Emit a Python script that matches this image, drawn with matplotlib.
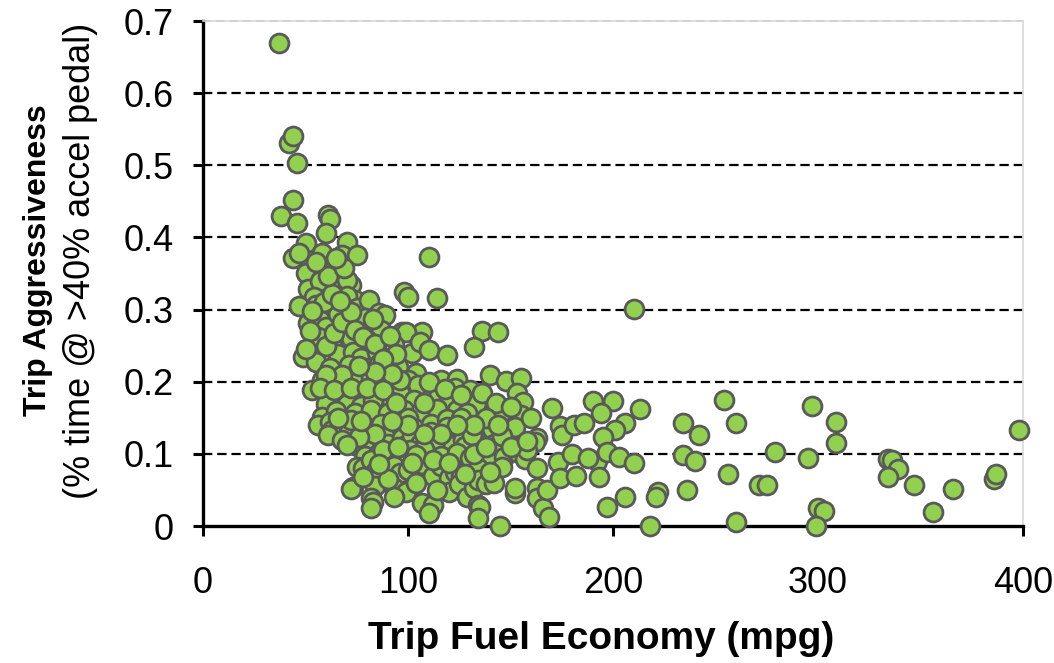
import matplotlib.pyplot as plt
import numpy as np

plt.rcParams['font.family'] = ['Liberation Sans', 'DejaVu Sans']

# trip fuel economy (mpg) and share of time above 40% accel pedal
mpg = [
    37, 42, 44, 46, 44, 38, 46, 61, 62, 60, 70, 50, 44, 47, 58, 68, 75,
    50, 58, 64, 66, 51, 72, 70, 57, 74, 54, 47, 55, 62, 65, 70, 75, 81,
    86, 89, 51, 57, 60, 66, 71, 76, 79, 82, 87, 98, 100, 114, 110, 97,
    107, 99, 136, 144, 132, 54, 63, 72, 80, 93, 49, 58, 66, 73, 77, 85,
    102, 106, 110, 119, 55, 62, 71, 80, 86, 95, 104, 58, 66, 75, 82, 90,
    100, 105, 116, 124, 140, 148, 155, 53, 61, 69, 78, 86, 96, 103, 112,
    115, 120, 123, 130, 153, 156, 60, 70, 77, 83, 92, 130, 133, 58, 65,
    74, 82, 90, 98, 106, 114, 124, 129, 141, 145, 155, 56, 62, 63, 71,
    72, 80, 87, 95, 103, 111, 111, 119, 119, 126, 127, 135, 141, 152,
    61, 68, 75, 81, 82, 89, 90, 97, 98, 102, 106, 114, 122, 127, 128,
    131, 142, 163, 162, 79, 86, 87, 96, 101, 105, 108, 116, 124, 130,
    140, 147, 153, 157, 158, 75, 78, 82, 84, 93, 96, 100, 107, 112, 116,
    120, 123, 126, 134, 146, 163, 73, 72, 84, 93, 99, 93, 82, 83, 82,
    107, 112, 110, 120, 125, 129, 132, 134, 138, 142, 152, 152, 163,
    134, 135, 134, 145, 163, 166, 169, 168,
    56, 60, 64, 68, 72, 59, 63, 67, 53, 61, 69, 65, 55, 52, 50, 74, 78,
    83, 84, 91, 94, 88, 96, 92, 84, 76, 68, 60, 57, 64, 72, 80, 88, 94,
    100, 108, 110, 118, 126, 136, 143, 138, 132, 124, 116, 108, 100, 92,
    84, 76, 70, 66, 77, 88, 95, 104, 112, 120, 132, 138, 146, 150, 158,
    144, 150, 160, 90, 104, 114, 128, 140, 102, 86, 78,
    170, 174, 175, 181, 186, 190, 200, 194, 213, 206, 201, 195, 173,
    180, 174, 182, 192, 188, 197, 203, 210, 193, 197, 206, 210, 234,
    242, 234, 240, 236, 222, 221, 218, 254, 260, 256, 260, 271, 297,
    309, 309, 279, 295, 275, 300, 303, 299, 334, 336, 339, 334, 347,
    356, 366, 386, 387, 398,
]
aggr = [
    .670, .531, .541, .503, .452, .430, .420, .431, .426, .406, .394,
    .392, .372, .379, .379, .376, .376, .351, .344, .356, .331, .329,
    .334, .341, .340, .313, .318, .305, .306, .306, .300, .319, .302,
    .313, .295, .293, .282, .286, .276, .294, .269, .283, .288, .273,
    .272, .325, .318, .316, .373, .269, .269, .269, .270, .269, .248,
    .252, .251, .261, .258, .251, .234, .236, .239, .241, .233, .241,
    .240, .255, .244, .237, .227, .219, .223, .219, .225, .221, .212,
    .202, .198, .201, .205, .198, .202, .196, .202, .204, .209, .201,
    .205, .189, .180, .182, .179, .179, .184, .175, .187, .183, .176,
    .191, .188, .184, .172, .169, .169, .166, .173, .172, .161, .169,
    .151, .160, .157, .161, .157, .161, .157, .162, .161, .157, .154,
    .155, .154, .140, .144, .133, .130, .147, .136, .141, .132, .136,
    .142, .130, .148, .137, .150, .130, .136, .135, .137, .126, .119,
    .111, .119, .111, .123, .114, .122, .111, .125, .114, .111, .111,
    .119, .111, .126, .114, .122, .117, .097, .101, .097, .094, .105,
    .096, .107, .097, .101, .094, .092, .096, .103, .093, .105, .082,
    .080, .092, .075, .083, .073, .078, .086, .069, .083, .067, .075,
    .069, .080, .082, .080, .054, .051, .055, .053, .047, .040, .039,
    .033, .025, .032, .029, .018, .047, .058, .040, .053, .064, .058,
    .060, .046, .053, .053, .029, .026, .011, .000, .039, .025, .013,
    .050,
    .262, .250, .268, .283, .296, .311, .322, .312, .298, .346, .357,
    .372, .366, .270, .245, .272, .262, .287, .253, .264, .238, .232,
    .203, .211, .214, .222, .210, .210, .192, .188, .192, .192, .188,
    .170, .150, .170, .199, .190, .182, .185, .170, .150, .140, .140,
    .128, .128, .140, .146, .128, .124, .112, .150, .146, .105, .110,
    .098, .092, .088, .100, .110, .125, .110, .118, .140, .165, .150,
    .065, .060, .050, .072, .075, .088, .086, .068,
    .164, .139, .126, .140, .143, .173, .173, .157, .162, .143, .133,
    .123, .089, .100, .067, .069, .090, .094, .103, .096, .087, .068,
    .026, .040, .301, .143, .126, .098, .090, .050, .047, .040, .000,
    .175, .143, .072, .005, .057, .166, .144, .115, .103, .094, .057,
    .025, .021, .000, .093, .092, .079, .068, .057, .019, .051, .065,
    .072, .133,
]

x_ticks = [0, 100, 200, 300, 400]
y_ticks = [0, 0.1, 0.2, 0.3, 0.4, 0.5, 0.6, 0.7]
y_tick_labels = ['0', '0.1', '0.2', '0.3', '0.4', '0.5', '0.6', '0.7']

fig = plt.figure(figsize=(10.54, 6.63), dpi=100)
ax = fig.add_axes([0.1926, 0.2066, 0.778, 0.7617])

# dashed horizontal gridlines
for yv in y_ticks[1:-1]:
    ax.axhline(yv, color='black', lw=1.6, ls=(0, (4.2, 2.2)), zorder=1)
ax.axhline(0.7, color='#a6a6a6', lw=1.2, ls=(0, (5, 3)), zorder=1, clip_on=False)

ax.scatter(mpg, aggr, s=185, facecolor='#92d050', edgecolor='#595959',
           linewidth=2.0, zorder=3, clip_on=False)

ax.set_xlim(0, 400)
ax.set_ylim(0, 0.7)
ax.set_xticks(x_ticks)
ax.set_yticks(y_ticks)
ax.set_yticklabels(y_tick_labels)
ax.tick_params(axis='both', direction='out', length=7, width=2.2,
               labelsize=26, color='black')
ax.tick_params(axis='x', pad=22)
ax.tick_params(axis='y', pad=14)

for side in ['left', 'bottom']:
    ax.spines[side].set_linewidth(2.4)
    ax.spines[side].set_color('black')
for side in ['top', 'right']:
    ax.spines[side].set_linewidth(1.2)
    ax.spines[side].set_color('#d9d9d9')

ax.set_xlabel('Trip Fuel Economy (mpg)', fontsize=28, fontweight='bold',
              labelpad=14)
ax.xaxis.label.set_x(0.486)
fig.text(0.036, 0.607, 'Trip Aggressiveness', rotation=90, fontsize=23,
         fontweight='bold', ha='center', va='center')
fig.text(0.076, 0.607, '(% time @ >40% accel pedal)', rotation=90,
         fontsize=26, ha='center', va='center')

fig.savefig('out.png', dpi=100)
